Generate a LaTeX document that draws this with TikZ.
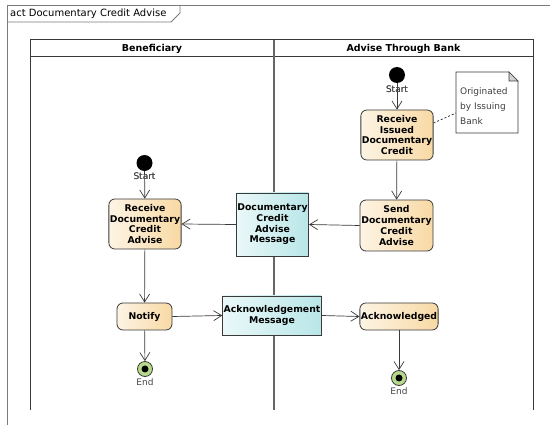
\documentclass[tikz,border=0pt]{standalone}
\usepackage{fontspec}
\setmainfont{DejaVu Sans}
\usetikzlibrary{arrows.meta}

\definecolor{actL}{HTML}{FDF4E4}
\definecolor{actR}{HTML}{F8D9A4}
\definecolor{objL}{HTML}{EAF8F8}
\definecolor{objR}{HTML}{B9E6E8}
\definecolor{endG}{HTML}{B7D98B}
\definecolor{lineC}{HTML}{3A3A3A}
\definecolor{frameC}{HTML}{7A7A7A}

\tikzset{
  action/.style={draw=lineC, line width=0.8pt, rounded corners=6pt,
    left color=actL, right color=actR, align=center, inner sep=1pt,
    font=\fontsize{9.3}{10.7}\selectfont\bfseries},
  object/.style={draw=lineC, line width=0.8pt,
    left color=objL, right color=objR, align=center, inner sep=1pt,
    font=\fontsize{9.3}{10.7}\selectfont\bfseries},
  startnode/.style={circle, fill=black, minimum size=16pt, inner sep=0pt},
  endnode/.style={circle, draw=lineC, line width=0.8pt, fill=endG,
    minimum size=15pt, inner sep=0pt,
    path picture={\fill[black] (path picture bounding box.center) circle (3.5pt);}},
  smalllbl/.style={font=\fontsize{9}{10}\selectfont, text=black!72},
  flow/.style={draw=lineC, line width=0.7pt,
    -{Straight Barb[length=8pt,width=10pt,line width=0.7pt]}},
  lane/.style={draw=lineC, line width=1pt},
}

\begin{document}
\begin{tikzpicture}[x=1pt,y=-1pt]
\useasboundingbox (0,0) rectangle (550,425);
\fill[white] (0,0) rectangle (550,425);

% diagram frame with its name tab
\draw[frameC, line width=0.8pt] (550,5) -- (7,5) -- (7,425);
\draw[frameC, line width=0.8pt] (7,22) -- (171,22) -- (180,13) -- (180,5);
\node[anchor=west, font=\fontsize{10}{11}\selectfont, inner sep=0pt] (title) at (10,14) {act Documentary Credit Advise};

% swimlanes
\draw[lane] (30,410) -- (30,40) -- (533,40) -- (533,410);
\draw[lane] (30,57) -- (533,57);
\draw[draw=black!60, line width=1.6pt] (274,40) -- (274,410);
\node[font=\fontsize{9.5}{10}\selectfont\bfseries] (laneA) at (152,48.5) {Beneficiary};
\node[font=\fontsize{9.5}{10}\selectfont\bfseries] (laneB) at (403.5,48.5) {Advise Through Bank};

% bank lane
\node[startnode] (startB) at (397,75) {};
\node[smalllbl] (startBl) at (397,89) {Start};
\node[action, minimum width=72pt, minimum height=50pt] (recvIssued) at (397,135)
  {Receive\\Issued\\Documentary\\Credit};
\node[action, minimum width=73pt, minimum height=51pt] (sendAdv) at (396.5,225.5)
  {Send\\Documentary\\Credit\\Advise};
\node[action, minimum width=78pt, minimum height=27pt] (acked) at (399,316.5)
  {Acknowledged};
\node[endnode] (endB) at (399,378) {};
\node[smalllbl] (endBl) at (399,391.5) {End};

% note attached to the first bank action
\draw[lineC, line width=0.7pt, fill=white]
  (456,72) -- (509,72) -- (518,81) -- (518,133) -- (456,133) -- cycle;
\draw[lineC, line width=0.7pt, fill=black!18] (509,72) -- (509,81) -- (518,81) -- cycle;
\node[anchor=north west, align=left, inner sep=0pt,
  font=\fontsize{9}{15}\selectfont, text=black!75] (note) at (460,87.5)
  {Originated\\by Issuing\\Bank};
\coordinate (noteL) at (456,113);
\draw[lineC, line width=0.8pt, dash pattern=on 2pt off 2pt] (recvIssued.east) ++(0,-12) -- (noteL);

% messages on the lane divider
\node[object, minimum width=71pt, minimum height=63pt] (advMsg) at (272.5,224.5)
  {Documentary\\Credit\\Advise\\Message};
\node[object, minimum width=98pt, minimum height=39pt] (ackMsg) at (272,315.5)
  {Acknowledgement\\Message};

% beneficiary lane
\node[startnode] (startA) at (144.5,163) {};
\node[smalllbl] (startAl) at (144.5,176.5) {Start};
\node[action, minimum width=72pt, minimum height=50pt] (recvAdv) at (145,224)
  {Receive\\Documentary\\Credit\\Advise};
\node[action, minimum width=55pt, minimum height=27pt] (notify) at (144.5,316.5)
  {Notify};
\node[endnode] (endA) at (145,369) {};
\node[smalllbl] (endAl) at (145,382.5) {End};

% control and object flows
\draw[flow] (startB) -- (recvIssued);
\draw[flow] (recvIssued) -- (sendAdv);
\draw[flow] (sendAdv.west) -- (advMsg.east);
\draw[flow] (advMsg.west) -- (recvAdv.east);
\draw[flow] (startA) -- (recvAdv);
\draw[flow] (recvAdv) -- (notify);
\draw[flow] (notify.east) -- (ackMsg.west);
\draw[flow] (ackMsg.east) -- (acked.west);
\draw[flow] (notify) -- (endA);
\draw[flow] (acked) -- (endB);

% labels drawn over their incoming lines
\node[smalllbl] at (startBl) {Start};
\node[smalllbl] at (startAl) {Start};
\end{tikzpicture}
\end{document}
